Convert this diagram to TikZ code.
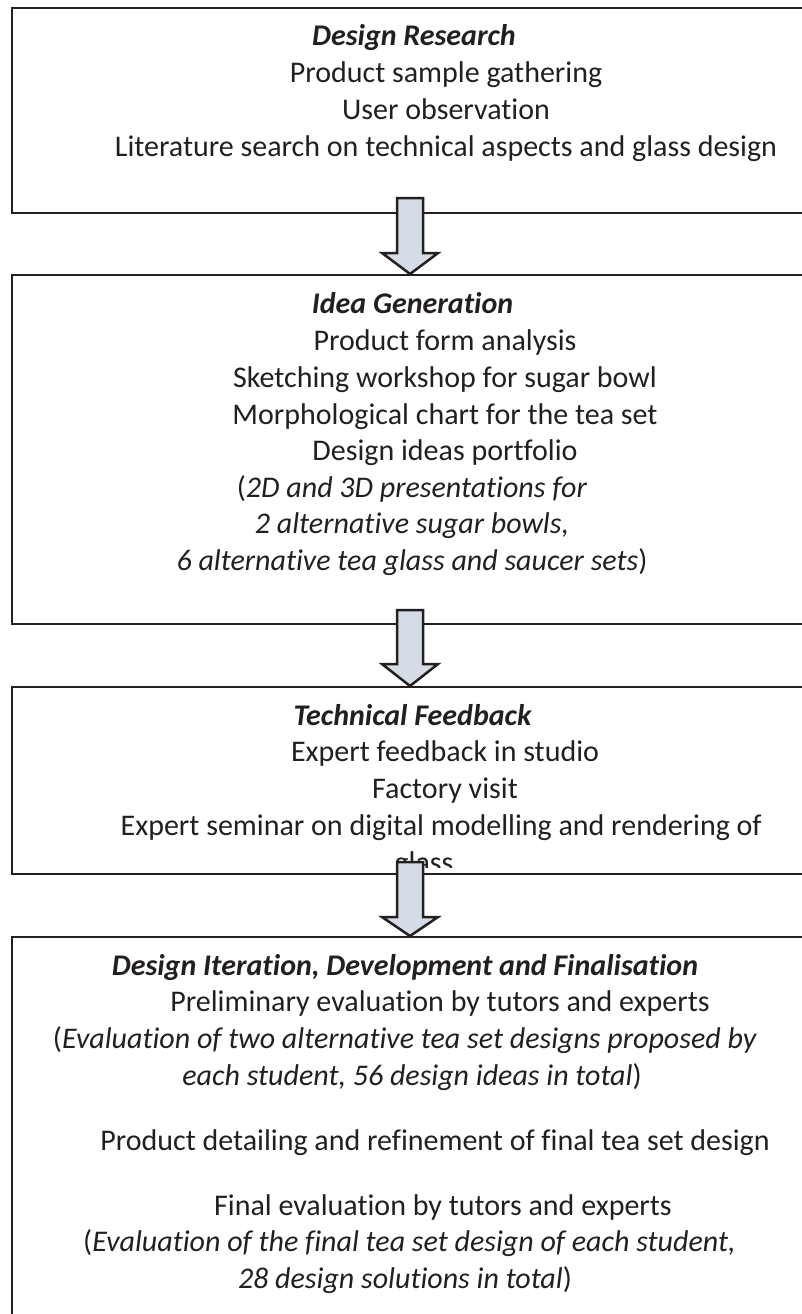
\documentclass[tikz,border=0pt]{standalone}
\usepackage{fontspec}
\setmainfont{Carlito}[Ligatures=NoCommon]
\definecolor{arrowfill}{HTML}{D6DCE5}
\definecolor{ink}{HTML}{231F20}
\tikzset{
  boxst/.style={draw=ink, line width=2pt, rectangle, inner sep=0pt, anchor=north west, minimum width=840pt},
  txt/.style={anchor=base, inner sep=0pt, text=ink, font=\fontsize{30}{36}\selectfont},
  ttl/.style={txt, font=\fontsize{30}{36}\selectfont\bfseries\itshape},
  blockarrow/.style={draw=ink, line width=2.5pt, fill=arrowfill, line join=miter},
}
\newcommand\blockarr[3]{%
  \draw[blockarrow] ([shift={(-13,0)}]#1) -- ([shift={(-13,#2)}]#1) -- ([shift={(-28,#2)}]#1)
    -- (#1 |- #3.north) -- ([shift={(28,#2)}]#1) -- ([shift={(13,#2)}]#1) -- ([shift={(13,0)}]#1) -- cycle;}
\begin{document}
\begin{tikzpicture}[x=1pt, y=-1pt]
\useasboundingbox (0,0) rectangle (802,1314);
\clip (0,0) rectangle (802,1314);
% boxes
\node[boxst, minimum height=205pt] (b1) at (10.5,7) {};
\node[boxst, minimum height=348.5pt] (b2) at (10.5,274) {};
\node[boxst, minimum height=187pt] (b3) at (10.5,686) {};
\node[boxst, minimum height=420pt] (b4) at (10.5,936) {};
% box 1 text
\node[ttl] (t1a) at (414,46) {Design Research};
\node[txt] (t1b) at (446,82.7) {Product sample gathering};
\node[txt] (t1c) at (446,119.4) {User observation};
\node[txt] (t1d) at (446,156) {Literature search on technical aspects and glass design};
% box 2 text
\node[ttl] (t2a) at (412.5,313) {Idea Generation};
\node[txt] (t2b) at (445,350) {Product form analysis};
\node[txt] (t2c) at (445,387) {Sketching workshop for sugar bowl};
\node[txt] (t2d) at (445,424) {Morphological chart for the tea set};
\node[txt] (t2e) at (445,460.5) {Design ideas portfolio};
\node[txt] (t2f) at (412,497) {(\textit{2D and 3D presentations for}};
\node[txt] (t2g) at (412,533.5) {\textit{2 alternative sugar bowls,}};
\node[txt] (t2h) at (412,570) {\textit{6 alternative tea glass and saucer sets})};
% box 3 text
\node[ttl] (t3a) at (412.5,725) {Technical Feedback};
\node[txt] (t3b) at (445,761.7) {Expert feedback in studio};
\node[txt] (t3c) at (445,798.4) {Factory visit};
\node[txt, anchor=base east] (t3d) at (762,835) {Expert seminar on digital modelling and rendering of};
\begin{scope}
\clip (0,0) rectangle (802,867);
\node[txt] (t3e) at (424,872) {glass};
\end{scope}
% box 4 text
\node[ttl] (t4a) at (405,975) {Design Iteration, Development and Finalisation};
\node[txt] (t4b) at (440,1011.7) {Preliminary evaluation by tutors and experts};
\node[txt] (t4c) at (405,1048.4) {(\textit{Evaluation of two alternative tea set designs proposed by}};
\node[txt] (t4d) at (412,1085) {\textit{each student, 56 design ideas in total})};
\node[txt] (t4e) at (435,1150) {Product detailing and refinement of final tea set design};
\node[txt, anchor=base east] (t4f) at (672,1215) {Final evaluation by tutors and experts};
\node[txt, anchor=base west] (t4g) at (83,1251.7) {(\textit{Evaluation of the final tea set design of each student,}};
\node[txt] (t4h) at (405,1288.4) {\textit{28 design solutions in total})};
% arrows
\coordinate (a1) at (410,198);
\coordinate (a2) at (410,610);
\coordinate (a3) at (410,862);
\blockarr{a1}{55}{b2}
\blockarr{a2}{54}{b3}
\blockarr{a3}{55}{b4}
\end{tikzpicture}
\end{document}
